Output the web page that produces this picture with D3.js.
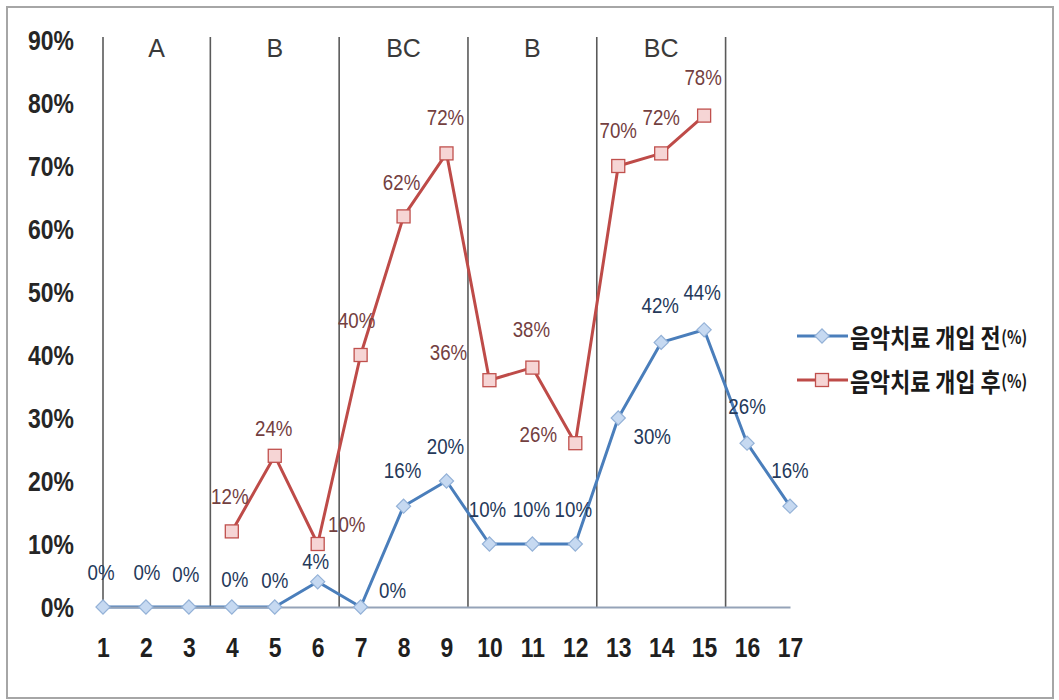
<!DOCTYPE html>
<html>
<head>
<meta charset="utf-8">
<script src="https://cdn.jsdelivr.net/npm/d3@7"></script>
<style>
  html, body { margin: 0; padding: 0; background: #fff; }
  svg { display: block; }
</style>
</head>
<body>
<svg id="chart" width="1059" height="700"></svg>
<script>
// Session numbers along the x axis
const sessions = ["1","2","3","4","5","6","7","8","9","10","11","12","13","14","15","16","17"];
// Share of target behaviour before music therapy intervention (%)
const beforeValues = [0, 0, 0, 0, 0, 4, 0, 16, 20, 10, 10, 10, 30, 42, 44, 26, 16];
// Share after music therapy intervention (%), only sessions 4–15
const afterValues = [null, null, null, 12, 24, 10, 40, 62, 72, 36, 38, 26, 70, 72, 78, null, null];
// Y-axis ticks (%)
const yTicks = [0, 10, 20, 30, 40, 50, 60, 70, 80, 90];
// Phases: label and the session index range they span
const phaseNames = ["A", "B", "BC", "B", "BC"];
const phaseStarts = [1, 4, 7, 10, 13];
const phaseEnds = [3, 6, 9, 12, 15];
const seriesNames = ["음악치료 개입 전", "음악치료 개입 후"];

// Label placement relative to each marker [dx, dy]
const beforeLabelOffsets = [[-2,-35],[1,-35],[-3,-33],[3,-28],[0,-27],[-2,-20],[32,-17],[-1,-36],[-1,-35],[-2,-35],[-1,-35],[-2,-35],[34,18],[-1,-37],[-2,-37],[0,-37],[0,-36]];
const afterLabelOffsets = [null,null,null,[-2,-35],[-1,-27],[29,-20],[-4,-35],[-2,-34],[-1,-36],[-41,-28],[-1,-38],[-37,-9],[0,-36],[0,-36],[-1,-38],null,null];

const svg = d3.select("#chart");

// outer frame
svg.append("rect")
  .attr("x", 7).attr("y", 7).attr("width", 1046).attr("height", 691)
  .attr("fill", "#fff").attr("stroke", "#a6a6a6").attr("stroke-width", 2);

const x = d3.scalePoint().domain(sessions).range([103, 790]);
const y = d3.scaleLinear().domain([0, 90]).range([607, 40]);
const step = x.step();
const xi = i => x(sessions[i]);

const numFont = "'Liberation Sans', Arial, sans-serif";
const krFont = "'Noto Sans CJK KR', 'Noto Sans', sans-serif";
const narrow = "scale(0.85,1)";

// phase divider lines: one at the start, then between phases
const dividers = [xi(0)].concat(phaseEnds.map(e => xi(e - 1) + step / 2));
svg.append("g").selectAll("line").data(dividers).join("line")
  .attr("x1", d => d).attr("x2", d => d)
  .attr("y1", 37).attr("y2", y(0))
  .attr("stroke", "#5a5a5a").attr("stroke-width", 1.6);

// phase labels centred between dividers
svg.append("g").selectAll("text").data(phaseNames).join("text")
  .attr("x", (d, i) => (dividers[i] + dividers[i + 1]) / 2)
  .attr("y", 48)
  .attr("text-anchor", "middle")
  .attr("dominant-baseline", "central")
  .attr("font-family", "'Liberation Sans', Arial, sans-serif")
  .attr("font-size", 25)
  .attr("fill", "#3a3a3a")
  .text(d => d);

// y axis labels
const yAxis = d3.axisLeft(y).tickValues(yTicks).tickSize(0).tickPadding(0)
  .tickFormat(d => d + "%");
const gy = svg.append("g").attr("transform", "translate(74,0)").call(yAxis);
gy.select(".domain").remove();
gy.selectAll("text")
  .attr("font-family", numFont).attr("font-size", 27).attr("font-weight", "bold")
  .attr("fill", "#262626").attr("dy", "0.35em").attr("transform", narrow);

const blue = "#4a7ebb", red = "#be4b48";

const line = d3.line()
  .defined(d => d != null)
  .x((d, i) => xi(i))
  .y(d => y(d));

svg.append("path").datum(beforeValues)
  .attr("d", line).attr("fill", "none")
  .attr("stroke", blue).attr("stroke-width", 3).attr("stroke-linejoin", "round");
svg.append("path").datum(afterValues)
  .attr("d", line).attr("fill", "none")
  .attr("stroke", red).attr("stroke-width", 3).attr("stroke-linejoin", "round");

// x axis (line drawn over the zero-valued series)
const xAxis = d3.axisBottom(x).tickSize(0).tickPadding(0);
const gx = svg.append("g").attr("transform", `translate(0,${y(0)})`).call(xAxis);
gx.select(".domain").attr("stroke", "#95a3b8").attr("stroke-width", 2.2);
gx.selectAll("text")
  .attr("font-family", numFont).attr("font-size", 27).attr("font-weight", "bold")
  .attr("fill", "#1f1f1f").attr("y", 50).attr("dy", "0").attr("transform", narrow);

// markers
const diamond = d3.symbol().type(d3.symbolSquare).size(100);
svg.append("g").selectAll("path")
  .data(beforeValues.map((v, i) => ({ v, i })))
  .join("path")
  .attr("d", diamond())
  .attr("transform", d => `translate(${xi(d.i)},${y(d.v)}) rotate(45)`)
  .attr("fill", "#c6d9f1").attr("stroke", "#93b1d7").attr("stroke-width", 1.2);

svg.append("g").selectAll("rect")
  .data(afterValues.map((v, i) => ({ v, i })).filter(d => d.v != null))
  .join("rect")
  .attr("x", d => xi(d.i) - 6.5).attr("y", d => y(d.v) - 6.5)
  .attr("width", 13).attr("height", 13)
  .attr("fill", "#f6d5d5").attr("stroke", "#c0504d").attr("stroke-width", 1.3);

// value labels
function drawLabels(values, offsets, color) {
  svg.append("g").selectAll("text")
    .data(values.map((v, i) => ({ v, i })).filter(d => d.v != null))
    .join("text")
    .attr("transform", d =>
      `translate(${xi(d.i) + offsets[d.i][0]},${y(d.v) + offsets[d.i][1]}) ${narrow}`)
    .attr("text-anchor", "middle")
    .attr("dominant-baseline", "central")
    .attr("font-family", numFont)
    .attr("font-size", 22)
    .attr("fill", color)
    .text(d => d.v + "%");
}
drawLabels(beforeValues, beforeLabelOffsets, "#25395a");
drawLabels(afterValues, afterLabelOffsets, "#73403f");

// legend
const legend = svg.append("g");
const legendRows = [
  { name: seriesNames[0], color: blue, y: 336, marker: "diamond" },
  { name: seriesNames[1], color: red, y: 380, marker: "square" }
];
legendRows.forEach(r => {
  legend.append("line")
    .attr("x1", 797).attr("x2", 848).attr("y1", r.y).attr("y2", r.y)
    .attr("stroke", r.color).attr("stroke-width", 3);
  if (r.marker === "diamond") {
    legend.append("path").attr("d", diamond())
      .attr("transform", `translate(822,${r.y}) rotate(45)`)
      .attr("fill", "#c6d9f1").attr("stroke", "#93b1d7").attr("stroke-width", 1.2);
  } else {
    legend.append("rect").attr("x", 815.5).attr("y", r.y - 6.5)
      .attr("width", 13).attr("height", 13)
      .attr("fill", "#f6d5d5").attr("stroke", "#c0504d").attr("stroke-width", 1.3);
  }
  const t = legend.append("text")
    .attr("transform", `translate(850,${r.y}) scale(0.84,1)`)
    .attr("dominant-baseline", "central")
    .attr("font-family", krFont).attr("font-weight", "bold")
    .attr("font-size", 26).attr("fill", "#1a1a1a");
  t.append("tspan").text(r.name);
  t.append("tspan").attr("font-size", 18).attr("dx", 1).text("(%)");
});
</script>
</body>
</html>
